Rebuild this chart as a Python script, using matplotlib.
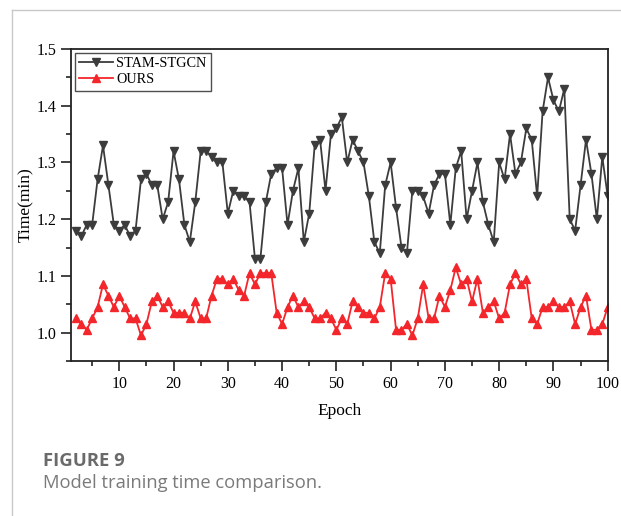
import numpy as np
import matplotlib
matplotlib.use("Agg")
import matplotlib.pyplot as plt
from matplotlib.lines import Line2D
from matplotlib.ticker import MultipleLocator

# ---------------------------------
# Data
# ---------------------------------

epochs = list(range(2, 101))

stam_stgcn = [
    1.18, 1.17, 1.19, 1.19, 1.27, 1.33, 1.26, 1.19, 1.18,          # 2-10
    1.19, 1.17, 1.18, 1.27, 1.28, 1.26, 1.26, 1.20, 1.23, 1.32,    # 11-20
    1.27, 1.19, 1.16, 1.23, 1.32, 1.32, 1.31, 1.30, 1.30, 1.21,    # 21-30
    1.25, 1.24, 1.24, 1.23, 1.13, 1.13, 1.23, 1.28, 1.29, 1.29,    # 31-40
    1.19, 1.25, 1.29, 1.16, 1.21, 1.33, 1.34, 1.25, 1.35, 1.36,    # 41-50
    1.38, 1.30, 1.34, 1.32, 1.30, 1.24, 1.16, 1.14, 1.26, 1.30,    # 51-60
    1.22, 1.15, 1.14, 1.25, 1.25, 1.24, 1.21, 1.26, 1.28, 1.28,    # 61-70
    1.19, 1.29, 1.32, 1.20, 1.25, 1.30, 1.23, 1.19, 1.16, 1.30,    # 71-80
    1.27, 1.35, 1.28, 1.30, 1.36, 1.34, 1.24, 1.39, 1.45, 1.41,    # 81-90
    1.39, 1.43, 1.20, 1.18, 1.26, 1.34, 1.28, 1.20, 1.31, 1.24,    # 91-100
]

ours = [
    1.025, 1.015, 1.005, 1.025, 1.045, 1.085, 1.065, 1.045, 1.065,          # 2-10
    1.045, 1.025, 1.025, 0.995, 1.015, 1.055, 1.065, 1.045, 1.055, 1.035,   # 11-20
    1.035, 1.035, 1.025, 1.055, 1.025, 1.025, 1.065, 1.095, 1.095, 1.085,   # 21-30
    1.095, 1.075, 1.065, 1.105, 1.085, 1.105, 1.105, 1.105, 1.035, 1.015,   # 31-40
    1.045, 1.065, 1.045, 1.055, 1.045, 1.025, 1.025, 1.035, 1.025, 1.005,   # 41-50
    1.025, 1.015, 1.055, 1.045, 1.035, 1.035, 1.025, 1.045, 1.105, 1.095,   # 51-60
    1.005, 1.005, 1.015, 0.995, 1.025, 1.085, 1.025, 1.025, 1.065, 1.045,   # 61-70
    1.075, 1.115, 1.085, 1.095, 1.055, 1.095, 1.035, 1.045, 1.055, 1.025,   # 71-80
    1.035, 1.085, 1.105, 1.085, 1.095, 1.025, 1.015, 1.045, 1.045, 1.055,   # 81-90
    1.045, 1.045, 1.055, 1.015, 1.045, 1.065, 1.005, 1.005, 1.015, 1.045,   # 91-100
]

series_labels = ["STAM-STGCN", "OURS"]
x_ticks = [10, 20, 30, 40, 50, 60, 70, 80, 90, 100]
y_ticks = [1.0, 1.1, 1.2, 1.3, 1.4, 1.5]

# ---------------------------------
# Figure
# ---------------------------------

plt.rcParams["font.family"] = ["Liberation Serif", "DejaVu Serif"]

fig = plt.figure(figsize=(6.21, 5.16), dpi=100)
ax = fig.add_axes([0.1143, 0.3004, 0.8643, 0.6046])

ax.plot(epochs, stam_stgcn, color="#3c3c3c", lw=1.3, marker="v",
        ms=5.5, label=series_labels[0])
ax.plot(epochs, ours, color="#f2262b", lw=1.3, marker="^",
        ms=5.5, label=series_labels[1])

ax.set_xlim(1.1, 100)
ax.set_ylim(0.95, 1.5)
ax.set_xticks(x_ticks)
ax.set_yticks(y_ticks)
ax.xaxis.set_minor_locator(MultipleLocator(5))
ax.yaxis.set_minor_locator(MultipleLocator(0.05))
ax.tick_params(which="major", length=7, width=1.2, labelsize=11.5,
               direction="out", color="#222222")
ax.tick_params(which="minor", length=3.5, width=1.2, direction="out",
               color="#222222")
for s in ax.spines.values():
    s.set_linewidth(1.3)
    s.set_color("#222222")

ax.set_xlabel("Epoch", fontsize=12.5, labelpad=8)
ax.set_ylabel("Time(min)", fontsize=12.5, labelpad=2)

leg = ax.legend(loc="upper left", fontsize=10.3, frameon=True, fancybox=False,
                edgecolor="#222222", borderaxespad=0.25, handlelength=2.4,
                borderpad=0.3, labelspacing=0.25, handletextpad=0.2)
leg.get_frame().set_linewidth(1.0)

# ---------------------------------
# Card frame and caption
# ---------------------------------

fig.add_artist(Line2D([11.5 / 621, 11.5 / 621], [0, 1 - 10 / 516],
                      transform=fig.transFigure, color="#c8c8c8", lw=1.0))
fig.add_artist(Line2D([11.5 / 621, 1], [1 - 10 / 516, 1 - 10 / 516],
                      transform=fig.transFigure, color="#c8c8c8", lw=1.0))

fig.text(43 / 621, 1 - 461 / 516, "FIGURE 9", family="Open Sans",
         fontsize=13.3, weight="bold", color="#6a6a6a", va="center")
fig.text(43 / 621, 1 - 483 / 516, "Model training time comparison.",
         family="Open Sans", fontsize=13.2, color="#7a7a7a", va="center")

fig.savefig("out.png", dpi=100)
